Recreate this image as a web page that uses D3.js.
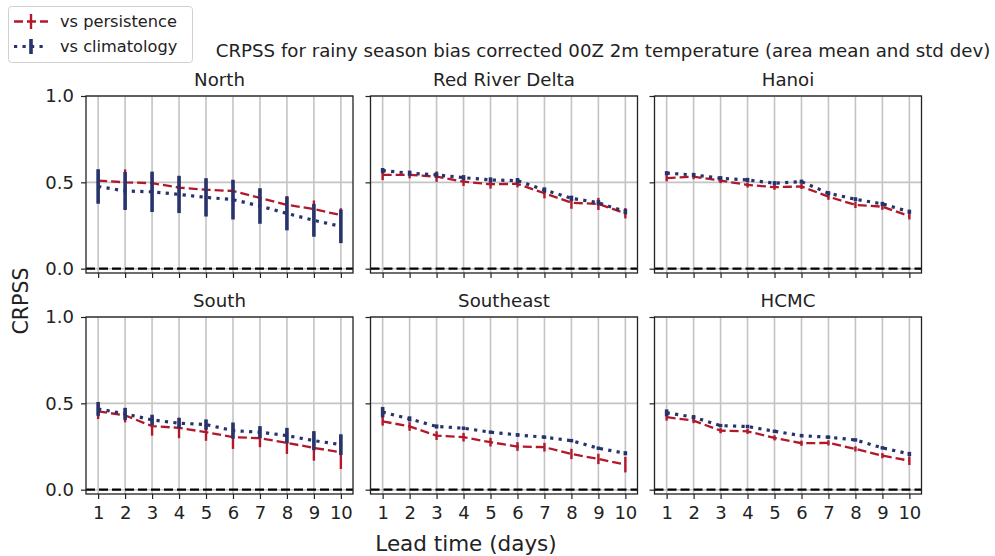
<!DOCTYPE html>
<html>
<head>
<meta charset="utf-8">
<script src="https://cdn.jsdelivr.net/npm/d3@7.9.0/dist/d3.min.js"></script>
<style>
  body { margin: 0; background: white; }
  svg { font-family: "DejaVu Sans", sans-serif; }
</style>
</head>
<body>
<svg id="chart" width="995" height="556"></svg>
<script>
// lead times shared by every panel
const leadDays = [1, 2, 3, 4, 5, 6, 7, 8, 9, 10];
const yTicks = [0.0, 0.5, 1.0];

const regions = ['North', 'Red River Delta', 'Hanoi', 'South', 'Southeast', 'HCMC'];

// area mean CRPSS vs persistence, one array per region
const persNorth = [0.51, 0.50, 0.495, 0.47, 0.457, 0.45, 0.41, 0.37, 0.345, 0.31];
const persRRD = [0.543, 0.543, 0.533, 0.504, 0.489, 0.491, 0.437, 0.382, 0.375, 0.321];
const persHanoi = [0.524, 0.533, 0.51, 0.485, 0.472, 0.476, 0.417, 0.369, 0.359, 0.305];
const persSouth = [0.454, 0.43, 0.368, 0.358, 0.333, 0.304, 0.298, 0.271, 0.242, 0.217];
const persSoutheast = [0.396, 0.366, 0.313, 0.304, 0.275, 0.25, 0.246, 0.207, 0.178, 0.145];
const persHCMC = [0.42, 0.40, 0.342, 0.338, 0.30, 0.269, 0.271, 0.236, 0.197, 0.168];

// std dev vs persistence
const persSdNorth = [0.06, 0.075, 0.06, 0.06, 0.06, 0.06, 0.05, 0.05, 0.05, 0.04];
const persSdRRD = [0.03, 0.02, 0.03, 0.025, 0.025, 0.02, 0.03, 0.035, 0.035, 0.03];
const persSdHanoi = [0.018, 0.015, 0.015, 0.015, 0.015, 0.015, 0.018, 0.018, 0.018, 0.02];
const persSdSouth = [0.045, 0.04, 0.055, 0.06, 0.05, 0.068, 0.052, 0.064, 0.074, 0.097];
const persSdSoutheast = [0.025, 0.025, 0.025, 0.025, 0.025, 0.025, 0.025, 0.03, 0.03, 0.045];
const persSdHCMC = [0.02, 0.015, 0.015, 0.015, 0.015, 0.015, 0.015, 0.015, 0.015, 0.025];

// area mean CRPSS vs climatology
const climNorth = [0.476, 0.45, 0.445, 0.43, 0.413, 0.40, 0.363, 0.32, 0.28, 0.245];
const climRRD = [0.568, 0.553, 0.543, 0.527, 0.514, 0.51, 0.456, 0.408, 0.382, 0.33];
const climHanoi = [0.553, 0.543, 0.524, 0.514, 0.495, 0.504, 0.437, 0.402, 0.375, 0.33];
const climSouth = [0.468, 0.439, 0.404, 0.385, 0.377, 0.342, 0.333, 0.313, 0.284, 0.261];
const climSoutheast = [0.449, 0.41, 0.366, 0.356, 0.333, 0.317, 0.304, 0.284, 0.24, 0.211];
const climHCMC = [0.445, 0.42, 0.371, 0.366, 0.338, 0.313, 0.304, 0.288, 0.242, 0.207];

// std dev vs climatology
const climSdNorth = [0.10, 0.11, 0.117, 0.108, 0.111, 0.115, 0.103, 0.098, 0.095, 0.097];
const climSdRRD = [0.015, 0.015, 0.015, 0.015, 0.015, 0.015, 0.015, 0.015, 0.015, 0.015];
const climSdHanoi = [0.012, 0.012, 0.012, 0.012, 0.012, 0.012, 0.012, 0.012, 0.012, 0.012];
const climSdSouth = [0.04, 0.035, 0.03, 0.03, 0.03, 0.047, 0.035, 0.045, 0.055, 0.06];
const climSdSoutheast = [0.03, 0.015, 0.012, 0.01, 0.01, 0.01, 0.01, 0.01, 0.01, 0.012];
const climSdHCMC = [0.02, 0.012, 0.01, 0.01, 0.01, 0.01, 0.01, 0.01, 0.01, 0.012];

const persMeans = [persNorth, persRRD, persHanoi, persSouth, persSoutheast, persHCMC];
const persSds = [persSdNorth, persSdRRD, persSdHanoi, persSdSouth, persSdSoutheast, persSdHCMC];
const climMeans = [climNorth, climRRD, climHanoi, climSouth, climSoutheast, climHCMC];
const climSds = [climSdNorth, climSdRRD, climSdHanoi, climSdSouth, climSdSoutheast, climSdHCMC];

const redColor = '#b2182b';
const navyColor = '#27336b';

const svg = d3.select('#chart');

// panel layout (3 columns x 2 rows)
const colLeft = [86, 370.5, 654.5];
const rowTop = [96, 317];
const panelW = 267;
const panelH = 177;

// series styles
const seriesList = [
  { name: 'vs persistence', color: redColor, dash: '9,4', lw: 2.3, barW: 2.4, means: persMeans, sds: persSds },
  { name: 'vs climatology', color: navyColor, dash: '3.2,5.3', lw: 3.2, barW: 3.6, means: climMeans, sds: climSds },
];

regions.forEach((region, i) => {
  const col = i % 3;
  const row = Math.floor(i / 3);
  const left = colLeft[col];
  const top = rowTop[row];

  const x = d3.scaleLinear().domain([0.55, 10.45]).range([left, left + panelW]);
  const y = d3.scaleLinear().domain([-0.025, 1.0]).range([top + panelH, top]);

  const g = svg.append('g');

  // grid lines
  g.selectAll('.vgrid')
    .data(leadDays)
    .join('line')
    .attr('x1', d => x(d)).attr('x2', d => x(d))
    .attr('y1', top).attr('y2', top + panelH)
    .attr('stroke', '#c4c4c4').attr('stroke-width', 1.6);
  g.selectAll('.hgrid')
    .data(yTicks)
    .join('line')
    .attr('x1', left).attr('x2', left + panelW)
    .attr('y1', d => y(d)).attr('y2', d => y(d))
    .attr('stroke', '#c4c4c4').attr('stroke-width', 1.6);

  // zero reference line
  g.append('line')
    .attr('x1', left).attr('x2', left + panelW)
    .attr('y1', y(0)).attr('y2', y(0))
    .attr('stroke', 'black').attr('stroke-width', 2.2)
    .attr('stroke-dasharray', '9,4');

  // each series: error bars then the connecting line
  seriesList.forEach(s => {
    const means = s.means[i];
    const sds = s.sds[i];
    const pts = leadDays.map((d, k) => ({ day: d, m: means[k], sd: sds[k] }));

    g.append('path')
      .datum(pts)
      .attr('fill', 'none')
      .attr('stroke', s.color)
      .attr('stroke-width', s.lw)
      .attr('stroke-dasharray', s.dash)
      .attr('d', d3.line().x(d => x(d.day)).y(d => y(d.m)));

    g.selectAll(null)
      .data(pts)
      .join('line')
      .attr('x1', d => x(d.day)).attr('x2', d => x(d.day))
      .attr('y1', d => y(d.m - d.sd)).attr('y2', d => y(d.m + d.sd))
      .attr('stroke', s.color)
      .attr('stroke-width', s.barW);
  });

  // axes
  const xAxis = d3.axisBottom(x).tickValues(leadDays).tickSize(5).tickPadding(7)
    .tickFormat(row === 1 ? d3.format('d') : () => '');
  const yAxis = d3.axisLeft(y).tickValues(yTicks).tickSize(5).tickPadding(7)
    .tickFormat(col === 0 ? d3.format('.1f') : () => '');

  const xg = g.append('g').attr('transform', `translate(0,${top + panelH})`).call(xAxis);
  const yg = g.append('g').attr('transform', `translate(${left},0)`).call(yAxis);
  [xg, yg].forEach(a => {
    a.select('.domain').remove();
    a.selectAll('.tick line').attr('stroke', '#222').attr('stroke-width', 1.2);
    a.selectAll('.tick text').attr('fill', '#222').style('font-size', '18px')
      .style('font-family', '"DejaVu Sans", sans-serif');
  });

  // frame
  g.append('rect')
    .attr('x', left).attr('y', top)
    .attr('width', panelW).attr('height', panelH)
    .attr('fill', 'none').attr('stroke', '#222').attr('stroke-width', 1.3);

  // panel title
  g.append('text')
    .attr('x', left + panelW / 2).attr('y', top - 10)
    .attr('text-anchor', 'middle')
    .style('font-size', '18.2px').attr('fill', '#222')
    .text(region);
});

// figure title and labels
svg.append('text')
  .attr('x', 603).attr('y', 57)
  .attr('text-anchor', 'middle')
  .style('font-size', '18.2px').attr('fill', '#222')
  .text('CRPSS for rainy season bias corrected 00Z 2m temperature (area mean and std dev)');

svg.append('text')
  .attr('x', 466).attr('y', 551)
  .attr('text-anchor', 'middle')
  .style('font-size', '21.5px').attr('fill', '#222')
  .text('Lead time (days)');

svg.append('text')
  .attr('transform', 'translate(28,301) rotate(-90)')
  .attr('text-anchor', 'middle')
  .style('font-size', '20.5px').attr('fill', '#222')
  .text('CRPSS');

// legend, top left
const legend = svg.append('g');
legend.append('rect')
  .attr('x', 8.5).attr('y', 6.5).attr('width', 184).attr('height', 56).attr('rx', 3)
  .attr('fill', 'white').attr('stroke', '#d0d0d0').attr('stroke-width', 1);

seriesList.forEach((s, k) => {
  const ly = 21.5 + k * 25;
  legend.append('line')
    .attr('x1', 14).attr('x2', 48).attr('y1', ly).attr('y2', ly)
    .attr('stroke', s.color).attr('stroke-width', s.lw)
    .attr('stroke-dasharray', s.dash);
  legend.append('line')
    .attr('x1', 31).attr('x2', 31).attr('y1', ly - 7.5).attr('y2', ly + 7.5)
    .attr('stroke', s.color).attr('stroke-width', s.barW);
  legend.append('text')
    .attr('x', 60).attr('y', ly).attr('dy', '0.35em')
    .style('font-size', '16.2px').attr('fill', '#222')
    .text(s.name);
});
</script>
</body>
</html>
